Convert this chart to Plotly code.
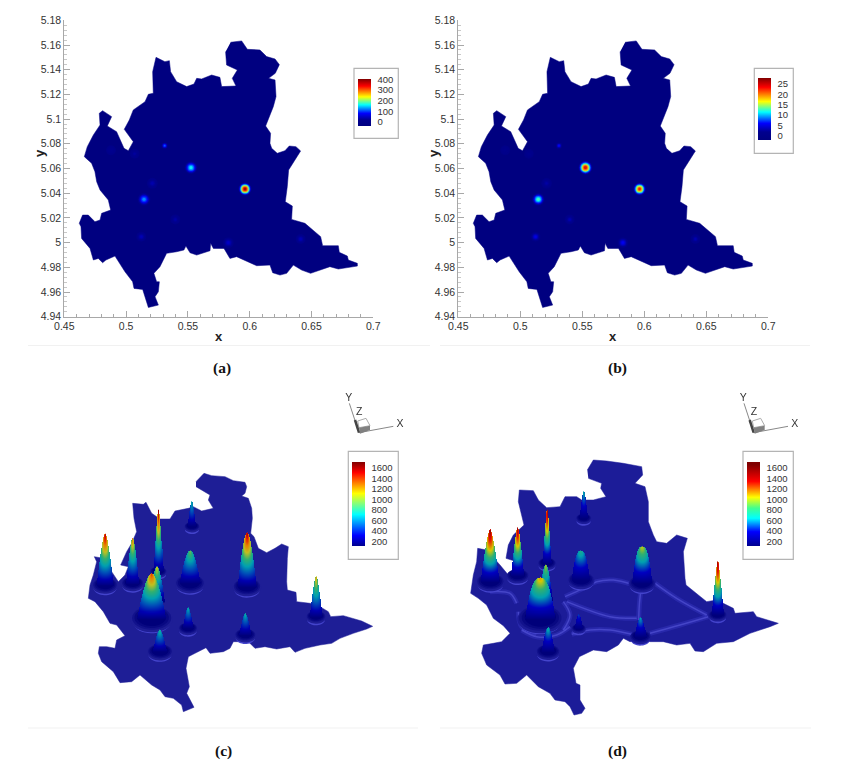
import numpy as np
import plotly.graph_objects as go

W, H = 863, 767

# ---------- map outline (x, y) ----------
map_x = [.5846,.5935,.5981,.6083,.6137,.6205,.6240,.6207,.6153,.6205,.6213,.6191,.6129,.6169,.6164,.6178,.6223,.6285,.6320,.6374,.6412,.6366,.6315,.6304,.6288,.6345,.6339,.6447,.6528,.6574,.6590,.6717,.6725,.6790,.6798,.6871,.6871,.6784,.6717,.6649,.6542,.6493,.6420,.6353,.6299,.6245,.6186,.6164,.6056,.5962,.5894,.5840,.5792,.5706,.5684,.5679,.5571,.5517,.5484,.5468,.5409,.5328,.5274,.5225,.5247,.5269,.5261,.5234,.5261,.5180,.5166,.5134,.5064,.5053,.4991,.4945,.4910,.4837,.4810,.4775,.4735,.4708,.4640,.4635,.4621,.4648,.4694,.4748,.4789,.4802,.4875,.4856,.4789,.4762,.4748,.4721,.4662,.4686,.4735,.4789,.4783,.4810,.4883,.4848,.4923,.4983,.5018,.5058,.4985,.5026,.5058,.5153,.5180,.5220,.5215,.5242,.5314,.5350,.5360,.5409,.5490,.5549,.5571,.5611,.5692,.5759,.5773,.5889,.5859,.5900,.5813,.5805]
map_y = [5.1622,5.1633,5.1565,5.1560,5.1506,5.1487,5.1441,5.1371,5.1330,5.1317,5.1182,5.1101,5.0944,5.0885,5.0804,5.0763,5.0723,5.0744,5.0782,5.0777,5.0742,5.0669,5.0588,5.0453,5.0331,5.0296,5.0188,5.0156,5.0088,5.0048,4.9975,4.9975,4.9921,4.9891,4.9859,4.9832,4.9810,4.9799,4.9786,4.9805,4.9772,4.9751,4.9778,4.9818,4.9751,4.9737,4.9756,4.9818,4.9813,4.9859,4.9886,4.9872,4.9953,4.9953,4.9994,4.9934,4.9899,4.9918,4.9972,4.9940,4.9926,4.9913,4.9805,4.9751,4.9683,4.9683,4.9602,4.9562,4.9494,4.9475,4.9521,4.9621,4.9629,4.9683,4.9764,4.9832,4.9891,4.9859,4.9837,4.9872,4.9859,4.9953,5.0034,5.0129,5.0156,5.0223,5.0223,5.0169,5.0183,5.0237,5.0264,5.0345,5.0426,5.0493,5.0574,5.0642,5.0696,5.0777,5.0871,5.0952,5.1047,5.1068,5.1020,5.0944,5.0898,5.0763,5.0744,5.0817,5.0917,5.0993,5.1074,5.1141,5.1201,5.1209,5.1384,5.1500,5.1465,5.1473,5.1384,5.1303,5.1263,5.1284,5.1330,5.1325,5.1357,5.1338,5.1263,5.1268,5.1330,5.1398,5.1438,5.1546]

# ---------- hot spots in panels (a) and (b) ----------
spot_x = [.5962,.5525,.5145,.5312,.5212,.5398,.5123,.5827,.6412,.5069,.4878]
spot_y = [5.0434,5.0607,5.0350,5.0785,5.0480,5.0188,5.0048,4.9999,5.0029,5.0720,5.0747]
spot_a = [395,165,130,115,38,32,42,52,42,28,20]
spot_b = [23.5,25,13,6,2.5,3,5,5.5,3,1.5,1]

# ---------- tick labels ----------
x_tick_vals = [.45,.5,.55,.6,.65,.7]
x_tick_text = ["0.45","0.5","0.55","0.6","0.65","0.7"]
y_tick_vals = [4.94,4.96,4.98,5,5.02,5.04,5.06,5.08,5.1,5.12,5.14,5.16,5.18]
y_tick_text = ["4.94","4.96","4.98","5","5.02","5.04","5.06","5.08","5.1","5.12","5.14","5.16","5.18"]
cb_a_vals = [0,100,200,300,400]
cb_b_vals = [0,5,10,15,20,25]
cb_3d_vals = [200,400,600,800,1000,1200,1400,1600]

# ---------- projected outline, panel (c) ----------
c_x = [408,432,455,495,520,555,560,555,545,565,575,577,572,582,595,620,645,665,685,682,680,682,708,710,750,780,805,812,850,870,905,938,920,880,840,815,780,735,705,690,650,615,585,565,520,510,490,450,438,405,385,378,388,380,392,402,370,365,340,315,300,275,240,215,180,160,125,115,118,140,165,170,195,170,150,130,105,85,90,100,110,103,130,150,155,175,195,205,182,200,215,230,222,218,250,258,275,300,330,345,385,400,425,460,445,450,408]
c_y = [290,265,272,275,287,292,305,325,333,340,370,400,445,455,490,503,490,477,485,520,590,615,622,650,655,665,680,695,692,697,708,724,732,745,760,775,780,790,802,785,792,785,790,770,770,790,800,805,788,805,815,850,905,925,950,967,980,960,940,935,915,900,870,890,893,860,830,805,785,785,790,765,752,720,715,680,650,640,600,570,530,515,520,530,560,590,570,545,540,500,475,440,400,355,358,352,385,402,402,378,370,365,378,370,345,330,305]
# peaks of (c), back to front: position, tip, base, skirt radius, cone half width, sharpness, top value
c_peak_x    = [396,295,218,135,390,561,290,768,275,384,556,300]
c_peak_tip  = [350,375,460,447,497,443,545,575,565,668,685,735]
c_peak_base = [425,560,595,600,595,605,650,695,700,730,750,800]
c_peak_rx   = [22,24,32,36,42,40,20,28,60,27,30,36]
c_peak_w    = [11,13,18,24,30,27,22,18,42,15,17,20]
c_peak_p    = [.75,.8,.7,.7,.6,.62,.6,.75,.6,.75,.7,.7]
c_peak_top  = [780,1680,1330,1660,1020,1680,1180,1250,1450,780,780,830]

# ---------- projected outline, panel (d) ----------
d_x = [412,430,470,520,575,578,555,585,595,595,610,620,650,680,712,700,705,708,745,770,800,850,855,910,920,985,960,900,850,800,760,735,720,680,640,600,570,540,520,505,470,430,388,370,378,390,390,405,395,372,360,345,315,300,265,230,200,165,150,110,95,100,130,155,180,160,130,110,85,62,70,80,83,110,150,175,195,200,168,175,190,222,205,208,250,265,290,330,345,380,395,430,468,452,455,415]
d_y = [255,225,228,235,245,270,295,305,350,410,450,470,475,450,460,500,580,600,630,650,645,670,685,680,695,715,725,745,770,775,800,798,775,780,770,770,765,770,760,780,800,795,815,850,895,900,945,970,985,990,965,950,945,925,905,870,895,897,870,840,805,780,775,770,745,722,700,660,640,625,570,530,490,495,540,570,550,530,520,480,450,420,350,315,317,345,368,365,335,335,345,345,335,310,295,280]
d_peak_x    = [401,291,203,121,393,576,287,803,271,386,571,294]
d_peak_tip  = [320,375,428,433,497,485,540,530,577,688,698,727]
d_peak_base = [400,535,572,590,585,595,650,690,700,730,755,800]
d_peak_rx   = [22,26,32,40,38,38,20,26,65,20,30,34]
d_peak_w    = [11,12,18,27,26,28,20,17,44,11,16,18]
d_peak_p    = [.75,.85,.75,.75,.42,.42,.6,.85,.42,.65,.6,.6]
d_peak_top  = [700,1650,1600,1650,760,1020,1000,1650,1130,500,660,720]
# light ridges on (d)
ridge_xs = [[345,400,440,490,545],[615,680,770],[365,420,480,545],[600,690,775],[572,568,566],[350,480,560],[200,180,120],[215,260,320,360],[340,360,340],[205,215,260]]
ridge_ys = [[635,610,590,585,598],[595,640,690],[748,735,735,748],[745,720,695],[620,660,705],[650,695,700],[655,625,620],[735,755,750,725],[650,690,735],[680,725,745]]

# triad of panels (c) and (d)
triad_x_axis = [[897,1000],[897,868],[885,897]]
triad_y_axis = [[143,124],[143,55],[105,143]]
cube_top_x = [893,918,930,897,893]
cube_top_y = [108,100,122,128,108]
cube_low_x = [897,930,930,900,897]
cube_low_y = [128,122,135,146,128]

captions = ["(a)", "(b)", "(c)", "(d)"]

SCALE_2D = [[0,"#000080"],[.13,"#00008f"],[.27,"#0000ff"],[.45,"#00ffff"],[.62,"#ffff00"],[.85,"#ff0000"],[1,"#800000"]]
SCALE_C = [[0,"#00008f"],[.125,"#0000ff"],[.375,"#00ffff"],[.625,"#ffff00"],[.875,"#ff0000"],[1,"#800000"]]
SCALE_D = [[0,"#00008f"],[.17,"#0000ff"],[.33,"#00ffff"],[.45,"#40ff90"],[.58,"#ffff00"],[.77,"#ff0000"],[.97,"#800000"],[1,"#800000"]]
# the lit surface reads darker than the legend
CONE_C = [[0,"#00007a"],[.12,"#0000b0"],[.25,"#0050b8"],[.375,"#00a0b0"],[.5,"#30b070"],[.625,"#c0c020"],[.75,"#e88000"],[.875,"#e01000"],[1,"#800000"]]
CONE_D = [[0,"#00007a"],[.17,"#0000c0"],[.33,"#00a0b0"],[.45,"#30b070"],[.58,"#d8c800"],[.77,"#e81000"],[.97,"#800000"],[1,"#800000"]]

FONT = "Liberation Sans, Arial, sans-serif"
SERIF = "Liberation Serif, Times New Roman, serif"
TXT = "#333333"
GRAY = "#a8a8a8"
NAVY = "#000080"
BASE_C = "#1e1e96"
BASE_D = "#1c1c98"

def dom_x(l, r): return [l / W, r / W]
def dom_y(t, b): return [1 - b / H, 1 - t / H]

fig = go.Figure()

def cbar(left, top, height, vals):
    return dict(x=left / W, xanchor="left", xpad=0, y=1 - top / H, yanchor="top", ypad=0,
                thickness=13, thicknessmode="pixels", len=height, lenmode="pixels",
                outlinewidth=0, borderwidth=0, tickmode="array", tickvals=vals,
                ticktext=[str(v) for v in vals], ticks="outside", ticklen=5, tickwidth=0,
                tickcolor="rgba(0,0,0,0)", tickfont=dict(family=FONT, size=9.5, color=TXT))

# ---------- panels (a), (b) ----------
RING_FRACTION = [.08, .18, .3, .42, .55, .68, .8, .9, 1.0]
RING_RADIUS   = [1.0, .9, .8, .7, .6, .5, .4, .3, .2]
spot_radius_a = [6.5, 6.5, 6.5, 3.2, 5.5, 5, 5, 5.5, 5, 5, 5]
spot_radius_b = [6.5, 7, 6.5, 3.2, 5.5, 5, 5, 5.5, 5, 5, 5]

def panel2d(ax, vals, radii, cmin, cmax, cb):
    fig.add_trace(go.Scatter(x=map_x, y=map_y, xaxis="x" + ax, yaxis="y" + ax, mode="lines", fill="toself",
                             fillcolor=NAVY, line=dict(color=NAVY, width=0.5), hoverinfo="skip", showlegend=False))
    xs, ys, cs, ss = [], [], [], []
    for f, r in zip(RING_FRACTION, RING_RADIUS):
        for sx, sy, v, rad in zip(spot_x, spot_y, vals, radii):
            xs.append(sx); ys.append(sy); cs.append(v * f); ss.append(2 * rad * r)
    fig.add_trace(go.Scatter(x=xs, y=ys, xaxis="x" + ax, yaxis="y" + ax, mode="markers", showlegend=False,
                             marker=dict(size=ss, color=cs, colorscale=SCALE_2D, cmin=cmin, cmax=cmax,
                                         line=dict(width=0), showscale=True, colorbar=cb)))

panel2d("", spot_a, spot_radius_a, -38, 403, cbar(357.7, 79, 47, cb_a_vals))
panel2d("2", spot_b, spot_radius_b, -2.27, 27.8, cbar(758, 78.3, 62.4, cb_b_vals))

# ---------- panels (c), (d) ----------
def ell(cx, cy, rx, ry):
    t = np.linspace(0, 2 * np.pi, 40)
    return (cx + rx * np.cos(t)).tolist(), (cy + ry * np.sin(t)).tolist()

def blob(ax, cx, cy, rx, ry, color):
    x, y = ell(cx, cy, rx, ry)
    fig.add_trace(go.Scatter(x=x, y=y, xaxis="x" + ax, yaxis="y" + ax, mode="none", fill="toself",
                             fillcolor=color, hoverinfo="skip", showlegend=False))

def panel3d(ax, over, ox, oy, px, tip, base, rx, w, p, top, basecol, scale, cone, cb, dx, ridges=False):
    fig.add_trace(go.Scatter(x=ox, y=oy, xaxis="x" + ax, yaxis="y" + ax, mode="lines", fill="toself",
                             fillcolor=basecol, line=dict(color=basecol, width=0.5), hoverinfo="skip", showlegend=False))
    # legend
    fig.add_trace(go.Scatter(x=[None], y=[None], xaxis="x" + ax, yaxis="y" + ax, mode="markers", hoverinfo="skip", showlegend=False,
                             marker=dict(color=[200, 1600], colorscale=scale, cmin=104, cmax=1709, showscale=True, colorbar=cb)))
    if ridges:
        for width, col in ((5, "rgba(70,70,215,.3)"), (1.5, "rgba(105,105,235,.45)")):
            for rxs, rys in zip(ridge_xs, ridge_ys):
                fig.add_trace(go.Scatter(x=rxs, y=rys, xaxis="x" + ax, yaxis="y" + ax, mode="lines", hoverinfo="skip",
                                         line=dict(color=col, width=width, shape="spline"), showlegend=False))
    # skirts: light crescent, then surface, then the dark hollow
    for x0, b0, r0 in zip(px, base, rx):
        ry = r0 * .6
        blob(ax, x0, b0 + 9, r0 * .96, ry * 1.0, "#4444cc")
        blob(ax, x0, b0 + 3, r0 * 1.06, ry * 1.08, basecol)
        blob(ax, x0, b0 - 1, r0 * .98, ry * .98, "#12128c")
        blob(ax, x0, b0 - 2, r0 * .86, ry * .86, "#080882")
        blob(ax, x0, b0 - 3, r0 * .72, ry * .72, "#00007a")
    # cones: one heatmap per peak, coloured through the colour scale, back to front
    for x0, t0, b0, w0, p0, v in zip(px, tip, base, w, p, top):
        gx = np.arange(x0 - w0 - 2, x0 + w0 + 3, 1.5)
        gy = np.arange(t0, b0 + 1, 1.5)
        z = []
        for y0 in gy:
            t = (b0 - y0) / (b0 - t0)
            hw = w0 * max(1 - t, 0) ** p0 + 1.5
            val = 120 + (v - 120) * t
            row = []
            for xx in gx:
                u = abs(xx - x0) / hw
                row.append(None if u > 1 else 120 + (val - 120) * (1 - .3 * u * u))
            z.append(row)
        fig.add_trace(go.Heatmap(x=gx.tolist(), y=gy.tolist(), z=z, xaxis="x" + over, yaxis="y" + over,
                                 colorscale=cone, zmin=104, zmax=1709, showscale=False, hoverinfo="skip"))
    # orientation triad
    for lx, ly, lw, col in ((triad_x_axis[0], triad_y_axis[0], 1, "#888888"), (triad_x_axis[1], triad_y_axis[1], 1, "#888888"),
                            (cube_top_x, cube_top_y, 1, "#aaaaaa"), (triad_x_axis[2], triad_y_axis[2], 2.5, "#444444")):
        fig.add_trace(go.Scatter(x=[v + dx for v in lx], y=ly, xaxis="x" + ax, yaxis="y" + ax, mode="lines", hoverinfo="skip",
                                 line=dict(color=col, width=lw), showlegend=False))
    fig.add_trace(go.Scatter(x=[v + dx for v in cube_low_x], y=cube_low_y, xaxis="x" + ax, yaxis="y" + ax, mode="none", fill="toself",
                             fillcolor="#808080", hoverinfo="skip", showlegend=False))
    fig.add_trace(go.Scatter(x=[1020 + dx, 866 + dx, 898 + dx], y=[118, 40, 82], text=["X", "Y", "Z"], mode="text",
                             xaxis="x" + ax, yaxis="y" + ax, hoverinfo="skip", showlegend=False,
                             textfont=dict(family=FONT, size=10.5, color=TXT)))

panel3d("3", "5", c_x, c_y, c_peak_x, c_peak_tip, c_peak_base, c_peak_rx, c_peak_w, c_peak_p, c_peak_top,
        BASE_C, SCALE_C, CONE_C, cbar(352.3, 462.3, 83.7, cb_3d_vals), 0)
panel3d("4", "6", d_x, d_y, d_peak_x, d_peak_tip, d_peak_base, d_peak_rx, d_peak_w, d_peak_p, d_peak_top,
        BASE_D, SCALE_D, CONE_D, cbar(747.3, 462.3, 83.7, cb_3d_vals), 14, ridges=True)

# ---------- axes ----------
def xaxis2d(l, r):
    return dict(domain=dom_x(l, r), range=[.45, .7], showgrid=False, zeroline=False, showline=True, linecolor=GRAY, linewidth=1,
                tickmode="array", tickvals=x_tick_vals, ticktext=x_tick_text, ticks="inside", ticklen=6, tickcolor=GRAY,
                tickfont=dict(family=FONT, size=10.5, color=TXT),
                minor=dict(tickmode="linear", tick0=.45, dtick=.01, ticks="inside", ticklen=3, tickcolor=GRAY))
def yaxis2d():
    return dict(domain=dom_y(20.3, 316.7), range=[4.94, 5.18], showgrid=False, zeroline=False, showline=True, linecolor=GRAY, linewidth=1,
                tickmode="array", tickvals=y_tick_vals, ticktext=y_tick_text, ticks="inside", ticklen=6, tickcolor=GRAY,
                tickfont=dict(family=FONT, size=10.5, color=TXT),
                minor=dict(tickmode="linear", tick0=4.94, dtick=.004, ticks="inside", ticklen=3, tickcolor="#c8c8c8"))
def hid(**k):
    return dict(visible=False, showgrid=False, zeroline=False, **k)

ax = dict(
    xaxis=dict(xaxis2d(64.3, 373.3), anchor="y"), yaxis=dict(yaxis2d(), anchor="x"),
    xaxis2=dict(xaxis2d(458.3, 768.3), anchor="y2"), yaxis2=dict(yaxis2d(), anchor="x2"),
    xaxis3=hid(domain=dom_x(60, 430), range=[0, 1110], anchor="y3"),
    yaxis3=hid(domain=dom_y(385, 767), range=[1146, 0], anchor="x3"),
    xaxis4=hid(domain=dom_x(450, 820), range=[0, 1110], anchor="y4"),
    yaxis4=hid(domain=dom_y(385, 767), range=[1146, 0], anchor="x4"),
    xaxis5=hid(domain=dom_x(60, 430), range=[0, 1110], anchor="y5", overlaying="x3"),
    yaxis5=hid(domain=dom_y(385, 767), range=[1146, 0], anchor="x5", overlaying="y3"),
    xaxis6=hid(domain=dom_x(450, 820), range=[0, 1110], anchor="y6", overlaying="x4"),
    yaxis6=hid(domain=dom_y(385, 767), range=[1146, 0], anchor="x6", overlaying="y4"),
)

def box(l, t, r, b):
    return dict(type="rect", xref="paper", yref="paper", x0=l / W, x1=r / W, y0=1 - t / H, y1=1 - b / H,
                line=dict(color="#b4b4b4", width=1.2), fillcolor="rgba(0,0,0,0)")
def rule(l, r, y):
    return dict(type="line", xref="paper", yref="paper", x0=l / W, x1=r / W, y0=1 - y / H, y1=1 - y / H,
                line=dict(color="#f1f1f1", width=1))

caption_pos = [(222, 368), (617, 368), (223, 751), (617, 751)]
annotations = [dict(text="<b>%s</b>" % c, x=px / W, y=1 - py / H, xref="paper", yref="paper", showarrow=False,
                    xanchor="center", yanchor="middle", font=dict(family=SERIF, size=15.5, color="#111"))
               for c, (px, py) in zip(captions, caption_pos)]
for tx, ty, label, ang in ((219, 336, "x", 0), (613, 336, "x", 0), (39, 153, "y", -90), (433, 153, "y", -90)):
    annotations.append(dict(text="<b>%s</b>" % label, x=tx / W, y=1 - ty / H, xref="paper", yref="paper", showarrow=False,
                            textangle=ang, xanchor="center", yanchor="middle", font=dict(family=FONT, size=13, color="#222")))

fig.update_layout(
    width=W, height=H, autosize=False, margin=dict(l=0, r=0, t=0, b=0, autoexpand=False), paper_bgcolor="white", plot_bgcolor="rgba(0,0,0,0)",
    showlegend=False, annotations=annotations,
    shapes=[box(354, 68.3, 398.3, 138.3), box(754.3, 68.3, 793.3, 153.3), box(348.3, 451.3, 398.3, 559.3), box(743, 451.3, 793.3, 559.3),
            rule(28, 430, 345.5), rule(440, 810, 345.5), rule(28, 418, 728), rule(440, 811, 728)],
    **ax)

# soften the rendered surfaces the way the scanned figure is soft
SOFTEN = """
document.body.style.margin='0';document.body.style.overflow='hidden';
function soften(){
  [['.x5y5 .imagelayer','blur(0.6px)'],['.x6y6 .imagelayer','blur(0.6px)'],
   ['.x3y3 .scatterlayer','blur(0.5px)'],['.x4y4 .scatterlayer','blur(0.5px)'],
   ['.xy .scatterlayer','blur(0.35px)'],['.x2y2 .scatterlayer','blur(0.35px)']].forEach(function(p){
     document.querySelectorAll(p[0]).forEach(function(e){e.style.filter=p[1];});
  });
}
soften();setTimeout(soften,50);
"""
fig.write_html("out.html", config={"displayModeBar": False}, post_script=SOFTEN)
